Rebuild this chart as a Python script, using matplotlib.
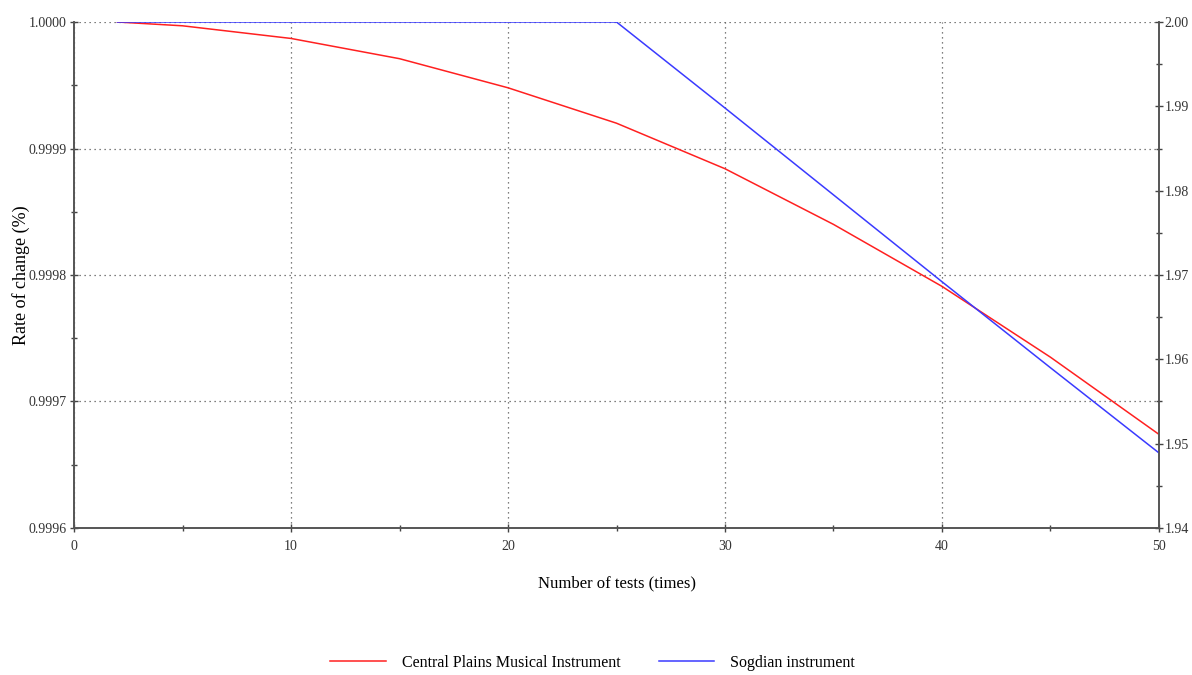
import matplotlib.pyplot as plt
from matplotlib.ticker import MultipleLocator, FormatStrFormatter

plt.rcParams['font.family'] = ['Liberation Serif', 'DejaVu Serif']

# Данные
tests_red = [2, 5, 10, 15, 20, 25, 30, 35, 40, 45, 50]
central_plains = [1.0, 0.999997, 0.999987, 0.999971, 0.999948, 0.99992, 0.999884,
                  0.99984, 0.999791, 0.999735, 0.999674]

tests_blue = [2, 25, 30, 35, 40, 45, 50]
sogdian = [2.0, 2.0, 1.9898, 1.9795, 1.9692, 1.959, 1.9489]

fig = plt.figure(figsize=(11.92, 6.75), dpi=100)
ax = fig.add_axes([0.0621, 0.2178, 0.9102, 0.7496])
ax2 = ax.twinx()

l1, = ax.plot(tests_red, central_plains, color='#ff2020', lw=1.1,
              label='Central Plains Musical Instrument')
l2, = ax2.plot(tests_blue, sogdian, color='#3a3aff', lw=1.1,
               label='Sogdian instrument')

ax.set_xlim(0, 50)
ax.set_ylim(0.9996, 1.0)
ax2.set_ylim(1.94, 2.0)

ax.xaxis.set_major_locator(MultipleLocator(10))
ax.xaxis.set_minor_locator(MultipleLocator(5))
ax.yaxis.set_major_locator(MultipleLocator(0.0001))
ax.yaxis.set_minor_locator(MultipleLocator(0.00005))
ax.yaxis.set_major_formatter(FormatStrFormatter('%.4f'))
ax2.yaxis.set_major_locator(MultipleLocator(0.01))
ax2.yaxis.set_minor_locator(MultipleLocator(0.005))
ax2.yaxis.set_major_formatter(FormatStrFormatter('%.2f'))

ax.grid(True, which='major', linestyle=(0, (1, 3)), color='#555555', lw=0.9)

for a in (ax, ax2):
    a.spines['top'].set_visible(False)
    for s in ('left', 'right', 'bottom'):
        a.spines[s].set_color('#555555')
        a.spines[s].set_linewidth(1.2)
    a.tick_params(which='both', direction='inout', colors='#444444',
                  labelsize=10, labelcolor='#333333')
    a.tick_params(which='major', length=6, width=1)
    a.tick_params(which='minor', length=5, width=1)
ax.tick_params(axis='y', pad=2)
ax2.tick_params(axis='y', pad=1)
ax.tick_params(axis='x', pad=6)

ax.set_xlabel('Number of tests (times)', fontsize=12, labelpad=16)
ax.set_ylabel('Rate of change (%)', fontsize=13)
ax.yaxis.set_label_coords(-0.041, 0.5)

fig.legend(handles=[l1, l2], loc='center', bbox_to_anchor=(0.497, 0.018),
           ncol=2, frameon=False, fontsize=11.5, handlelength=3.5,
           handletextpad=1.0, columnspacing=2.4)

fig.savefig('out.png', dpi=100)
